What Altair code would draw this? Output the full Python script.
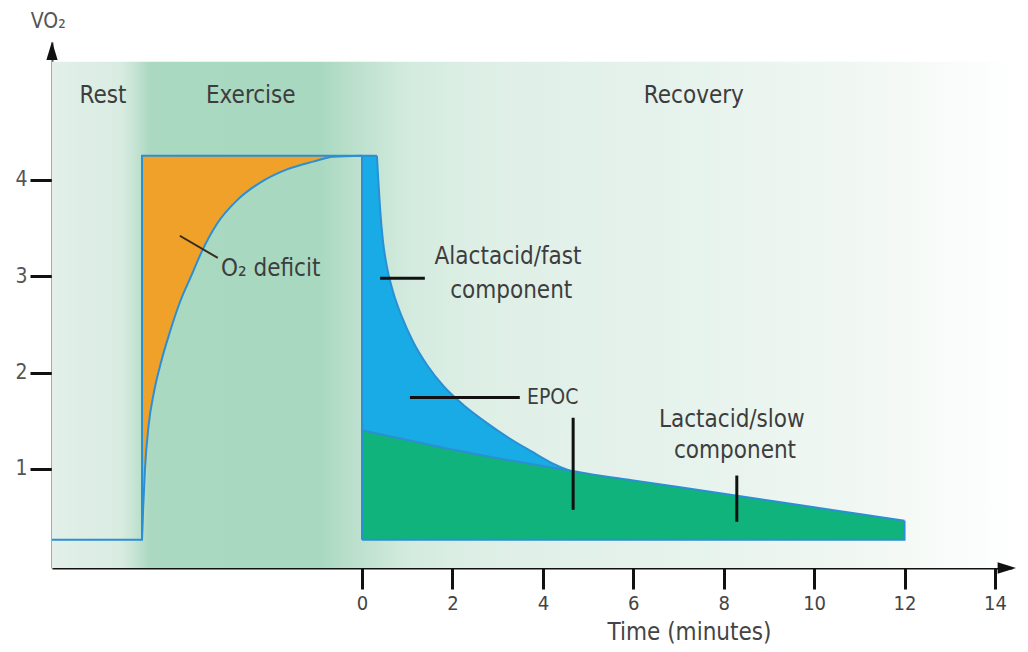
import altair as alt
import pandas as pd

FONT = "'DejaVu Sans Condensed', 'Liberation Sans Narrow', 'Open Sans', sans-serif"

# ---- scale extents (data units) ----
X_DOMAIN = [-6.857, 14.377]
Y_DOMAIN = [-0.03, 5.432]

# ---- levels ----
rest_level = 0.263
peak_level = 4.25
rest_x = [-6.857, -4.866]
bg_top = 5.226

# ---- exercise: O2 uptake curve (orange deficit above it) ----
ex_x = [-4.866, -4.84, -4.80, -4.72, -4.60, -4.45, -4.25, -4.02, -3.78, -3.55,
        -3.20, -2.76, -2.26, -1.66, -1.08, -0.64, 0.0]
ex_y = [0.263, 0.60, 1.00, 1.45, 1.80, 2.10, 2.42, 2.74, 3.00, 3.25,
        3.55, 3.79, 3.97, 4.11, 4.19, 4.24, 4.25]

# ---- recovery: total (fast + slow) curve ----
fast_x = [0.0, 0.33, 0.36, 0.40, 0.46, 0.55, 0.68, 0.88, 1.13, 1.45, 1.80, 2.25,
          2.75, 3.25, 3.75, 4.20, 4.60]
fast_y = [4.25, 4.25, 4.00, 3.70, 3.38, 3.10, 2.85, 2.58, 2.32, 2.07, 1.86, 1.66,
          1.48, 1.32, 1.18, 1.06, 0.98]

# ---- recovery: slow component curve ----
slow_x = [0, 1, 2, 3, 4, 5, 6, 7, 8, 9, 10, 11, 12]
slow_y = [1.40, 1.30, 1.20, 1.11, 1.03, 0.95, 0.88, 0.81, 0.74, 0.67, 0.60, 0.53, 0.46]

# ---- axis ticks ----
x_ticks = [0, 2, 4, 6, 8, 10, 12, 14]
y_ticks = [1, 2, 3, 4]

# ---- pointer lines (x, y, x2, y2) ----
ptr_x1 = [0.40, 1.06, 4.67, 8.29]
ptr_y1 = [2.98, 1.74, 1.53, 0.93]
ptr_x2 = [1.39, 3.49, 4.67, 8.29]
ptr_y2 = [2.98, 1.74, 0.574, 0.45]
o2ptr_x = [-4.03, -3.19]
o2ptr_y = [3.42, 3.19]

# ---- labels ----
c_text = ["Rest", "Exercise", "Recovery", "Alactacid/fast", "component",
          "Lactacid/slow", "component"]
c_x = [-5.73, -2.46, 7.34, 3.23, 3.30, 8.18, 8.25]
c_y = [4.87, 4.87, 4.87, 3.20, 2.85, 1.51, 1.18]
l_text = ["O₂ deficit"]
l_x = [-3.12]
l_y = [3.07]
epoc_text = ["EPOC"]
epoc_x = [3.65]
epoc_y = [1.74]
vo2_text = ["VO₂"]
vo2_x = [-6.94]
vo2_y = [5.64]

# ---- arrow heads at axis ends ----
arrow_up = (X_DOMAIN[0], 5.33)
arrow_right = (14.24, Y_DOMAIN[0])

xs = alt.Scale(domain=X_DOMAIN, nice=False, zero=False)
ys = alt.Scale(domain=Y_DOMAIN, nice=False, zero=False)

OUTLINE = "#2b8fd3"
TXT = "#3d3d3d"

bg = alt.Chart(pd.DataFrame({"x": [X_DOMAIN[0]], "x2": [X_DOMAIN[1]],
                             "y": [Y_DOMAIN[0]], "y2": [bg_top]})).mark_rect(
    color={"gradient": "linear", "x1": 0, "x2": 1, "y1": 0, "y2": 0,
           "stops": [
               {"offset": 0.0, "color": "#e2f0e9"},
               {"offset": 0.071, "color": "#d9ece2"},
               {"offset": 0.086, "color": "#c6e4d4"},
               {"offset": 0.102, "color": "#aad8c1"},
               {"offset": 0.279, "color": "#a9d8c1"},
               {"offset": 0.31, "color": "#b9dfcb"},
               {"offset": 0.373, "color": "#d4ebdf"},
               {"offset": 0.446, "color": "#deefe6"},
               {"offset": 0.675, "color": "#e7f3ed"},
               {"offset": 0.862, "color": "#f2f8f4"},
               {"offset": 0.967, "color": "#fbfdfc"},
               {"offset": 1.0, "color": "#ffffff"}]}
).encode(
    x=alt.X("x:Q", scale=xs, axis=alt.Axis(
        values=x_ticks, format="d", grid=False, domainColor="#111", domainWidth=2,
        tickColor="#111", tickWidth=3, tickSize=21, labelPadding=4,
        labelFont=FONT, labelFontSize=20, labelColor="#444",
        title="Time (minutes)", titleFont=FONT, titleFontSize=24,
        titleFontWeight="normal", titleColor="#444", titleX=637, titleY=64,
        titleAlign="center", titleBaseline="middle")),
    x2="x2:Q",
    y=alt.Y("y:Q", scale=ys, axis=alt.Axis(
        values=y_ticks, format="d", grid=False, domainColor="#555", domainWidth=2,
        tickColor="#111", tickWidth=3, tickSize=22, labelPadding=3,
        labelFont=FONT, labelFontSize=21, labelColor="#555", title=None)),
    y2="y2:Q",
)

XE = alt.X("x:Q", scale=xs)
YE = alt.Y("y:Q", scale=ys)

orange = alt.Chart(pd.DataFrame({"x": ex_x, "y": ex_y,
                                 "top": [peak_level] * len(ex_x)})).mark_area(
    color="#f0a12a", interpolate="monotone").encode(x=XE, y=YE, y2="top:Q")

blue = alt.Chart(pd.DataFrame({"x": fast_x, "y": fast_y,
                               "b": [rest_level] * len(fast_x)})).mark_area(
    color="#19abe6", interpolate="monotone").encode(x=XE, y=YE, y2="b:Q")

green = alt.Chart(pd.DataFrame({"x": slow_x, "y": slow_y,
                                "b": [rest_level] * len(slow_x)})).mark_area(
    color="#10b37b", interpolate="monotone").encode(x=XE, y=YE, y2="b:Q")

# straight outline segments: rest line + exercise box, x=0 edge, recovery bottom + right end
box_x = rest_x + [-4.866, 0.0, fast_x[1]]
box_y = [rest_level, rest_level, peak_level, peak_level, peak_level]
edge_x = [0.0, 0.0]
edge_y = [rest_level, peak_level]
bottom_x = [0.0, 12.0, 12.0]
bottom_y = [rest_level, rest_level, slow_y[-1]]
straight_df = pd.concat([
    pd.DataFrame({"x": box_x, "y": box_y, "i": range(len(box_x)), "s": "box"}),
    pd.DataFrame({"x": edge_x, "y": edge_y, "i": range(2), "s": "edge"}),
    pd.DataFrame({"x": bottom_x, "y": bottom_y, "i": range(3), "s": "bottom"}),
])
straight = alt.Chart(straight_df).mark_line(
    color=OUTLINE, strokeWidth=2, strokeJoin="miter").encode(
    x=XE, y=YE, detail="s:N", order="i:Q")

curves_df = pd.concat([
    pd.DataFrame({"x": ex_x, "y": ex_y, "s": "ex"}),
    pd.DataFrame({"x": fast_x[1:], "y": fast_y[1:], "s": "fast"}),
    pd.DataFrame({"x": slow_x, "y": slow_y, "s": "slow"}),
])
curves = alt.Chart(curves_df).mark_line(
    color=OUTLINE, strokeWidth=2, interpolate="monotone").encode(
    x=XE, y=YE, detail="s:N")

ptr = alt.Chart(pd.DataFrame({"x": ptr_x1, "y": ptr_y1, "x2": ptr_x2, "y2": ptr_y2})).mark_rule(
    color="#111", strokeWidth=3).encode(x=XE, y=YE, x2="x2:Q", y2="y2:Q")

o2ptr = alt.Chart(pd.DataFrame({"x": [o2ptr_x[0]], "y": [o2ptr_y[0]],
                                "x2": [o2ptr_x[1]], "y2": [o2ptr_y[1]]})).mark_rule(
    color="#3a2a1a", strokeWidth=2).encode(x=XE, y=YE, x2="x2:Q", y2="y2:Q")

ctext = alt.Chart(pd.DataFrame({"t": c_text, "x": c_x, "y": c_y})).mark_text(
    font=FONT, fontSize=24, color=TXT, align="center", baseline="middle").encode(
    x=XE, y=YE, text="t:N")

ltext = alt.Chart(pd.DataFrame({"t": l_text, "x": l_x, "y": l_y})).mark_text(
    font=FONT, fontSize=24, color=TXT, align="left", baseline="middle").encode(
    x=XE, y=YE, text="t:N")

etext = alt.Chart(pd.DataFrame({"t": epoc_text, "x": epoc_x, "y": epoc_y})).mark_text(
    font=FONT, fontSize=21, color=TXT, align="left", baseline="middle").encode(
    x=XE, y=YE, text="t:N")

vtext = alt.Chart(pd.DataFrame({"t": vo2_text, "x": vo2_x, "y": vo2_y})).mark_text(
    font=FONT, fontSize=21, color="#555", align="center", baseline="middle").encode(
    x=XE, y=YE, text="t:N")

arr_up = alt.Chart(pd.DataFrame({"x": [arrow_up[0]], "y": [arrow_up[1]]})).mark_point(
    shape="M0,-1L-0.55,0.8L0.55,0.8Z", filled=True, color="#111", opacity=1, size=420).encode(
    x=XE, y=YE)

arr_right = alt.Chart(pd.DataFrame({"x": [arrow_right[0]], "y": [arrow_right[1]]})).mark_point(
    shape="M1,0L-0.8,-0.55L-0.8,0.55Z", filled=True, color="#111", opacity=1, size=420).encode(
    x=XE, y=YE)

chart = alt.layer(
    bg, orange, blue, green, straight, curves, ptr, o2ptr,
    ctext, ltext, etext, vtext, arr_up, arr_right
).properties(
    width=960, height=526,
    padding={"left": 44, "top": 34, "right": 8, "bottom": 76},
    autosize=alt.AutoSizeParams(type="none"),
    background="white",
).configure_view(stroke=None)

chart.save("out.html", embed_options={"renderer": "svg", "actions": False})
